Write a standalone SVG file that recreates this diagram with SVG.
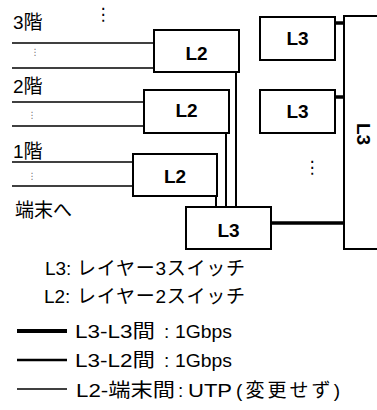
<svg xmlns="http://www.w3.org/2000/svg" width="377" height="410" viewBox="0 0 377 410">
<style>
text{font-family:"Liberation Sans","Noto Sans CJK JP",sans-serif;fill:#000}
.lbl{font-size:19px}
.box{fill:#fff;stroke:#000;stroke-width:2}
.bt{font-size:19px;font-weight:bold;text-anchor:middle}
.term{stroke:#000;stroke-width:1.5;fill:none}
.l2{stroke:#000;stroke-width:2;fill:none}
.l3{stroke:#000;stroke-width:3.5;fill:none}
.sd{font-family:"DejaVu Sans",sans-serif;font-size:9px;fill:#777;text-anchor:middle}
.bd{font-family:"DejaVu Sans",sans-serif;font-size:17px;text-anchor:middle}
</style>
<rect width="377" height="410" fill="#fff"/>
<g id="connectors">
<line class="term" x1="12" y1="43" x2="154" y2="43"/>
<line class="term" x1="12" y1="68" x2="154" y2="68"/>
<line class="term" x1="12" y1="102" x2="144" y2="102"/>
<line class="term" x1="12" y1="126" x2="144" y2="126"/>
<line class="term" x1="12" y1="162" x2="133" y2="162"/>
<line class="term" x1="12" y1="186" x2="133" y2="186"/>
<line class="l2" x1="236" y1="72" x2="236" y2="207"/>
<line class="l2" x1="226" y1="133" x2="226" y2="207"/>
<line class="l2" x1="216" y1="196" x2="216" y2="207"/>
<line class="l3" x1="335" y1="23" x2="344" y2="23"/>
<line class="l3" x1="335" y1="97" x2="344" y2="97"/>
<line class="l3" x1="271" y1="223" x2="344" y2="223"/>
</g>
<g id="floor-labels">
<text class="lbl" x="13" y="29">3階</text>
<text class="lbl" x="13" y="93">2階</text>
<text class="lbl" x="13" y="158">1階</text>
<text class="lbl" x="15" y="217">端末へ</text>
<text class="sd" x="35" y="55">⋮</text>
<text class="sd" x="32" y="118">⋮</text>
<text class="sd" x="32" y="179">⋮</text>
<text class="bd" x="103" y="20">⋮</text>
<text class="bd" x="312" y="173">⋮</text>
</g>
<g id="l2-3f"><rect class="box" x="154" y="30" width="85" height="42"/><text class="bt" x="196.5" y="60">L2</text></g>
<g id="l2-2f"><rect class="box" x="144" y="90" width="85" height="43"/><text class="bt" x="186.5" y="117">L2</text></g>
<g id="l2-1f"><rect class="box" x="133" y="154" width="84" height="42"/><text class="bt" x="175" y="183">L2</text></g>
<g id="l3-floor"><rect class="box" x="186" y="207" width="85" height="42"/><text class="bt" x="228.5" y="237">L3</text></g>
<g id="l3-a"><rect class="box" x="260" y="17" width="75" height="43"/><text class="bt" x="297.5" y="45">L3</text></g>
<g id="l3-b"><rect class="box" x="260" y="90" width="75" height="43"/><text class="bt" x="297.5" y="118">L3</text></g>
<g id="l3-core"><rect class="box" x="344" y="16" width="60" height="233"/><text class="bt" transform="translate(357,134) rotate(90)" x="0" y="0">L3</text></g>
<g id="legend">
<text class="lbl" y="275"><tspan x="45">L3</tspan><tspan x="66">:</tspan><tspan x="77" textLength="168" lengthAdjust="spacing">レイヤー3スイッチ</tspan></text>
<text class="lbl" y="303"><tspan x="44">L2</tspan><tspan x="65">:</tspan><tspan x="77" textLength="168" lengthAdjust="spacing">レイヤー2スイッチ</tspan></text>
<line x1="17" y1="331" x2="67" y2="331" stroke="#000" stroke-width="4"/>
<text class="lbl" y="338"><tspan x="75" textLength="80" lengthAdjust="spacingAndGlyphs">L3-L3間</tspan><tspan x="164">:</tspan><tspan x="175" textLength="57" lengthAdjust="spacingAndGlyphs">1Gbps</tspan></text>
<line x1="17" y1="360" x2="67" y2="360" stroke="#000" stroke-width="2.5"/>
<text class="lbl" y="367"><tspan x="75" textLength="80" lengthAdjust="spacingAndGlyphs">L3-L2間</tspan><tspan x="164">:</tspan><tspan x="175" textLength="57" lengthAdjust="spacingAndGlyphs">1Gbps</tspan></text>
<line x1="17" y1="389" x2="67" y2="389" stroke="#000" stroke-width="1.5"/>
<text class="lbl" y="397"><tspan x="76" textLength="99" lengthAdjust="spacingAndGlyphs">L2-端末間</tspan><tspan x="178">:</tspan><tspan x="188" textLength="44" lengthAdjust="spacingAndGlyphs">UTP</tspan><tspan x="236" textLength="104" lengthAdjust="spacing">(変更せず)</tspan></text>
</g>
</svg>
